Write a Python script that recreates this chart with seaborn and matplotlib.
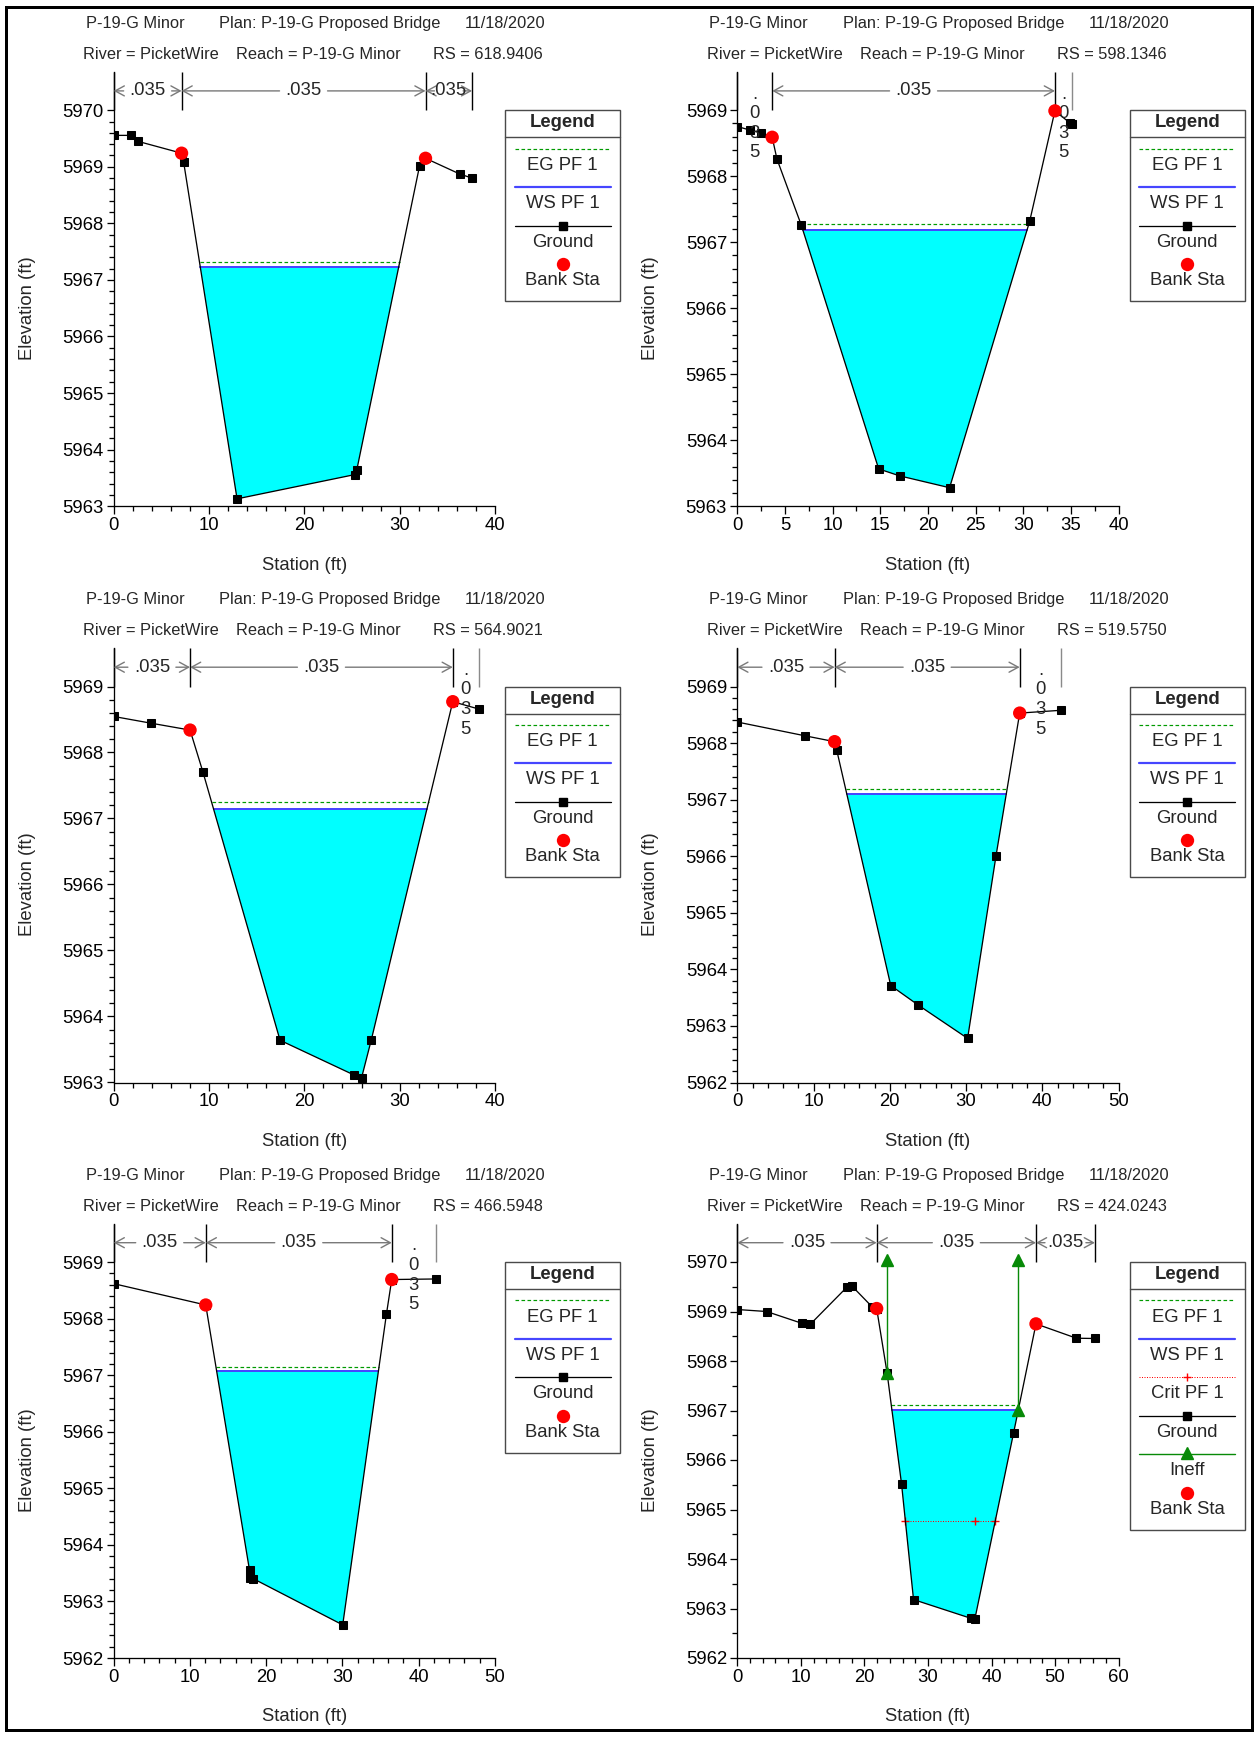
import numpy as np
import matplotlib
matplotlib.use("Agg")
import matplotlib.pyplot as plt
import seaborn as sns
from matplotlib.ticker import MultipleLocator
from matplotlib.patches import Rectangle

# ---------------------------------------------------------------- data
river = "PicketWire"
reach = "P-19-G Minor"
plan = "P-19-G Proposed Bridge"
run_date = "11/18/2020"

# RS 618.9406
sta_618 = [0, 1.85, 2.53, 7.12, 7.33, 12.94, 25.33, 25.5, 32.08, 32.71, 36.33, 37.6]
elev_618 = [5969.555, 5969.555, 5969.45, 5969.24, 5969.09, 5963.13, 5963.56, 5963.64,
            5969.01, 5969.15, 5968.87, 5968.80]
bank_sta_618 = [7.12, 32.71]
bank_elev_618 = [5969.24, 5969.15]
ws_618, eg_618 = 5967.23, 5967.31
n_618 = [".035", ".035", ".035"]

# RS 598.1346
sta_598 = [0, 1.30, 2.52, 3.66, 4.16, 6.72, 14.83, 17.02, 22.27, 30.67, 33.32, 34.95, 35.15]
elev_598 = [5968.753, 5968.70, 5968.66, 5968.59, 5968.26, 5967.256, 5963.565, 5963.46,
            5963.28, 5967.317, 5968.99, 5968.80, 5968.79]
bank_sta_598 = [3.66, 33.32]
bank_elev_598 = [5968.59, 5968.99]
ws_598, eg_598 = 5967.19, 5967.28
n_598 = [".035", ".035", ".035"]

# RS 564.9021
sta_564 = [0, 3.88, 8.01, 9.36, 17.45, 25.16, 26.0, 27.02, 35.57, 38.27]
elev_564 = [5968.546, 5968.445, 5968.34, 5967.705, 5963.64, 5963.117, 5963.07, 5963.644,
            5968.77, 5968.66]
bank_sta_564 = [8.01, 35.57]
bank_elev_564 = [5968.34, 5968.77]
ws_564, eg_564 = 5967.14, 5967.25
n_564 = [".035", ".035", ".035"]

# RS 519.5750
sta_519 = [0, 8.82, 12.76, 13.03, 20.12, 23.74, 30.2, 33.93, 37.03, 42.49]
elev_519 = [5968.372, 5968.13, 5968.025, 5967.88, 5963.714, 5963.367, 5962.78, 5966.01,
            5968.53, 5968.58]
bank_sta_519 = [12.76, 37.03]
bank_elev_519 = [5968.025, 5968.53]
ws_519, eg_519 = 5967.10, 5967.19
n_519 = [".035", ".035", ".035"]

# RS 466.5948
sta_466 = [0, 12.07, 17.81, 17.9, 18.33, 30.03, 35.77, 36.46, 42.25]
elev_466 = [5968.617, 5968.24, 5963.55, 5963.41, 5963.40, 5962.585, 5968.084, 5968.69, 5968.70]
bank_sta_466 = [12.07, 36.46]
bank_elev_466 = [5968.24, 5968.69]
ws_466, eg_466 = 5967.07, 5967.15
n_466 = [".035", ".035", ".035"]

# RS 424.0243
sta_424 = [0, 4.6, 10.2, 11.47, 17.27, 18.02, 21.17, 21.93, 23.57, 25.84, 27.73, 36.8, 37.37,
           43.48, 47.0, 53.37, 56.27]
elev_424 = [5969.04, 5969.0, 5968.76, 5968.74, 5969.495, 5969.517, 5969.10, 5969.06, 5967.76,
            5965.52, 5963.18, 5962.80, 5962.78, 5966.55, 5968.75, 5968.46, 5968.455]
bank_sta_424 = [21.93, 47.0]
bank_elev_424 = [5969.06, 5968.75]
ws_424, eg_424 = 5967.01, 5967.12
crit_424 = 5964.76
ineff_sta_424 = [23.57, 44.23]
ineff_elev_424 = [5970.05, 5970.05]
n_424 = [".035", ".035", ".035"]

sections = [
    dict(rs="618.9406", sta=sta_618, elev=elev_618, bsta=bank_sta_618, belev=bank_elev_618,
         ws=ws_618, eg=eg_618, n=n_618),
    dict(rs="598.1346", sta=sta_598, elev=elev_598, bsta=bank_sta_598, belev=bank_elev_598,
         ws=ws_598, eg=eg_598, n=n_598),
    dict(rs="564.9021", sta=sta_564, elev=elev_564, bsta=bank_sta_564, belev=bank_elev_564,
         ws=ws_564, eg=eg_564, n=n_564),
    dict(rs="519.5750", sta=sta_519, elev=elev_519, bsta=bank_sta_519, belev=bank_elev_519,
         ws=ws_519, eg=eg_519, n=n_519),
    dict(rs="466.5948", sta=sta_466, elev=elev_466, bsta=bank_sta_466, belev=bank_elev_466,
         ws=ws_466, eg=eg_466, n=n_466),
    dict(rs="424.0243", sta=sta_424, elev=elev_424, bsta=bank_sta_424, belev=bank_elev_424,
         ws=ws_424, eg=eg_424, n=n_424, crit=crit_424,
         ineff_sta=ineff_sta_424, ineff_elev=ineff_elev_424),
]

# ---------------------------------------------------------------- layout / style
layout = [
    dict(col=0, row=0, xmax=40, xmaj=10, xmin=2, ylo=5963, yhi=5970, ymin=0.2, stack=(0, 0, 0)),
    dict(col=1, row=0, xmax=40, xmaj=5, xmin=2.5, ylo=5963, yhi=5969, ymin=0.2, stack=(1, 0, 1)),
    dict(col=0, row=1, xmax=40, xmaj=10, xmin=2, ylo=5963, yhi=5969, ymin=0.2, stack=(0, 0, 1)),
    dict(col=1, row=1, xmax=50, xmaj=10, xmin=2, ylo=5962, yhi=5969, ymin=0.2, stack=(0, 0, 1)),
    dict(col=0, row=2, xmax=50, xmaj=10, xmin=2, ylo=5962, yhi=5969, ymin=0.2, stack=(0, 0, 1)),
    dict(col=1, row=2, xmax=60, xmaj=10, xmin=2, ylo=5962, yhi=5970, ymin=0.5, stack=(0, 0, 0)),
]

W, H = 1259, 1737
PT = 0.72                      # points per pixel at 100 dpi
COL_X = [113.7, 737.3]
COL_W = 381.3
ROW_TICK_TOP = [110.2, 686.5, 1262.0]
TICK_SPAN = 396.0
HEADROOM = 38.4
LEG_X = [505.0, 1129.8]
LEG_W = 115.0

FS = 13.3
FS_TITLE = 11.8
EG_C = "#009a00"
WS_C = "#4646ff"
WATER_C = "#00ffff"
INEFF_C = "#078a07"
ARROW_C = "#7a7a7a"
SQ = 5.6                       # ground marker size (pt)
DOT = 9.6                      # bank station marker size (pt)

sns.set_theme(style="white")
plt.rcParams["font.family"] = ["Liberation Sans", "DejaVu Sans"]
plt.rcParams["axes.linewidth"] = 1.3 * PT
plt.rcParams["axes.edgecolor"] = "black"

fig = plt.figure(figsize=(W / 100, H / 100), dpi=100)
fig.patch.set_facecolor("white")


def px_axes(x0, y_top, x1, y_bot):
    return fig.add_axes([x0 / W, 1 - y_bot / H, (x1 - x0) / W, (y_bot - y_top) / H])


def fig_text(x, y, s, **kw):
    fig.text(x / W, 1 - y / H, s, **kw)


def wet_extent(sta, elev, level):
    sta = np.asarray(sta, float)
    elev = np.asarray(elev, float)
    i0 = int(np.argmin(elev))
    i = i0
    while i > 0 and elev[i - 1] < level:
        i -= 1
    j = i0
    while j < len(sta) - 1 and elev[j + 1] < level:
        j += 1
    xl = np.interp(level, [elev[i], elev[i - 1]], [sta[i], sta[i - 1]])
    xr = np.interp(level, [elev[j], elev[j + 1]], [sta[j], sta[j + 1]])
    px = np.concatenate([[xl], sta[i:j + 1], [xr]])
    py = np.concatenate([[level], elev[i:j + 1], [level]])
    return xl, xr, px, py


def draw_nvalues(ax, bounds, labels, stack, y_tick_top, y_ax_top, y_arrow, ppx):
    for k, b in enumerate(bounds):
        col = "black"
        if k == len(bounds) - 1 and stack[-1]:
            col = "#8a8a8a"
        ax.plot([b, b], [y_tick_top, y_ax_top], color=col, lw=1.4 * PT,
                clip_on=False, zorder=4, solid_capstyle="butt")
    for i, lab in enumerate(labels):
        xl, xr = bounds[i], bounds[i + 1]
        xc = 0.5 * (xl + xr)
        if stack[i]:
            for k, ch in enumerate(lab):
                ax.annotate(ch, (xc, y_arrow), xytext=(0, -(7.6 + 19.6 * k) * PT),
                            textcoords="offset points", ha="center", va="baseline",
                            fontsize=FS, annotation_clip=False, zorder=5)
            continue
        ax.text(xc, y_arrow, lab, ha="center", va="center", fontsize=FS,
                clip_on=False, zorder=5)
        gap = 24.0 / ppx
        head = 9.0 / ppx
        inner_l = max(xc - gap, xl + head)
        inner_r = min(xc + gap, xr - head)
        arrow = dict(arrowstyle="->,head_length=0.55,head_width=0.3", color=ARROW_C,
                     lw=1.4 * PT, shrinkA=0, shrinkB=0)
        ax.annotate("", xy=(xl, y_arrow), xytext=(inner_l, y_arrow), arrowprops=arrow,
                    annotation_clip=False, zorder=4)
        ax.annotate("", xy=(xr, y_arrow), xytext=(inner_r, y_arrow), arrowprops=arrow,
                    annotation_clip=False, zorder=4)


def draw_legend(x0, y0, entries):
    h = 54.3 + 38.45 * (len(entries) - 1) + 21.3
    lax = px_axes(x0, y0, x0 + LEG_W, y0 + h)
    lax.set_xlim(0, LEG_W)
    lax.set_ylim(h, 0)
    lax.axis("off")
    lax.add_patch(Rectangle((0, 0), LEG_W, h, fill=False, lw=1.4 * PT,
                            edgecolor="#4a4a4a", clip_on=False))
    lax.plot([0, LEG_W], [27.3, 27.3], color="#4a4a4a", lw=1.4 * PT, clip_on=False)
    lax.text(LEG_W / 2, 12.8, "Legend", ha="center", va="center", fontsize=FS,
             fontweight="bold")
    xs = [9.5, LEG_W - 9.5]
    mid = LEG_W / 2
    for k, (kind, label) in enumerate(entries):
        yl = 38.4 + 38.45 * k
        yt = 55.0 + 38.45 * k
        if kind == "eg":
            lax.plot(xs, [yl, yl], color=EG_C, lw=1.2 * PT, ls=(0, (3.0, 2.0)))
        elif kind == "ws":
            lax.plot(xs, [yl, yl], color=WS_C, lw=2.2 * PT)
        elif kind == "crit":
            lax.plot(xs, [yl, yl], color="red", lw=1.0 * PT, ls=(0, (1, 1.5)))
            lax.plot([mid], [yl], marker="+", color="red", ms=6, mew=1.0)
        elif kind == "ground":
            lax.plot(xs, [yl, yl], color="black", lw=1.3 * PT)
            lax.plot([mid], [yl], marker="s", color="black", ms=SQ)
        elif kind == "ineff":
            lax.plot(xs, [yl, yl], color=INEFF_C, lw=1.4 * PT)
            lax.plot([mid], [yl - 1.5], marker="^", color=INEFF_C, ms=9)
        elif kind == "bank":
            lax.plot([mid], [yl], marker="o", color="red", ms=DOT, mec="none")
        lax.text(mid, yt, label, ha="center", va="center", fontsize=FS)


for sec, lay in zip(sections, layout):
    x0 = COL_X[lay["col"]]
    tick_top = ROW_TICK_TOP[lay["row"]]
    y_bot = tick_top + TICK_SPAN
    ax_top = tick_top - HEADROOM
    ax = px_axes(x0, ax_top, x0 + COL_W, y_bot)
    ax.set_facecolor("none")

    ylo, yhi, xmax = lay["ylo"], lay["yhi"], lay["xmax"]
    ppy = TICK_SPAN / (yhi - ylo)
    ppx = COL_W / xmax
    y_ax_top = yhi + HEADROOM / ppy
    y_arrow = yhi + 19.3 / ppy
    ax.set_xlim(0, xmax)
    ax.set_ylim(ylo, y_ax_top)

    sta = np.asarray(sec["sta"], float)
    elev = np.asarray(sec["elev"], float)

    # water surface area
    xl, xr, px, py = wet_extent(sta, elev, sec["ws"])
    ax.fill(px, py, color=WATER_C, lw=0, zorder=1)
    ax.plot([xl, xr], [sec["ws"], sec["ws"]], color=WS_C, lw=2.0 * PT, zorder=3)
    exl, exr, _, _ = wet_extent(sta, elev, sec["eg"])
    ax.plot([exl, exr], [sec["eg"], sec["eg"]], color=EG_C, lw=1.2 * PT,
            ls=(0, (3.0, 2.0)), zorder=3)

    entries = [("eg", "EG PF 1"), ("ws", "WS PF 1")]
    if "crit" in sec:
        cxl, cxr, _, _ = wet_extent(sta, elev, sec["crit"])
        cx = [cxl, sta[int(np.argmin(elev))], cxr]
        ax.plot([cxl, cxr], [sec["crit"]] * 2, color="red", lw=1.0 * PT,
                ls=(0, (1, 1.5)), zorder=3)
        ax.plot(cx, [sec["crit"]] * 3, ls="none", marker="+", color="red", ms=6,
                mew=1.0, zorder=3)
        entries.append(("crit", "Crit PF 1"))
    entries.append(("ground", "Ground"))

    # ground profile
    sns.lineplot(x=sta, y=elev, ax=ax, color="black", lw=1.3 * PT, marker="s",
                 markersize=SQ, markeredgecolor="black", sort=False, estimator=None,
                 zorder=5, legend=False)

    if "ineff_sta" in sec:
        for s, e in zip(sec["ineff_sta"], sec["ineff_elev"]):
            g = np.interp(s, sta, elev)
            ax.plot([s, s], [g, e], color=INEFF_C, lw=1.4 * PT, marker="^", ms=8,
                    zorder=6, clip_on=False)
        entries.append(("ineff", "Ineff"))
    entries.append(("bank", "Bank Sta"))

    # bank stations
    sns.scatterplot(x=sec["bsta"], y=sec["belev"], ax=ax, color="red", s=DOT ** 2,
                    edgecolor="none", zorder=7, legend=False)

    # Manning's n regions
    bounds = [sta[0], sec["bsta"][0], sec["bsta"][1], sta[-1]]
    draw_nvalues(ax, bounds, sec["n"], lay["stack"], yhi, y_ax_top, y_arrow, ppx)

    # axes styling
    for side in ("top", "right"):
        ax.spines[side].set_visible(False)
    ax.set_xticks(np.arange(0, xmax + 0.01, lay["xmaj"]))
    ax.set_yticks(np.arange(ylo, yhi + 0.01, 1))
    ax.xaxis.set_minor_locator(MultipleLocator(lay["xmin"]))
    ax.set_xticklabels([f"{v:g}" for v in ax.get_xticks()])
    ax.set_yticklabels([f"{v:.0f}" for v in ax.get_yticks()])
    # minor ticks only within the labelled range
    ax.set_yticks([v for v in np.arange(ylo, yhi + 1e-6, lay["ymin"])], minor=True)
    ax.tick_params(axis="both", which="both", direction="out", colors="black",
                   width=1.3 * PT, labelsize=FS)
    ax.tick_params(axis="both", which="major", length=7.5 * PT)
    ax.tick_params(axis="both", which="minor", length=4.8 * PT)
    ax.tick_params(axis="y", which="both", left=True, pad=2.0)
    ax.tick_params(axis="x", which="both", bottom=True, pad=2.5)
    ax.set_xlabel("")
    ax.set_ylabel("")
    ax.grid(False)

    fig_text(x0 + COL_W / 2, y_bot + 58.8, "Station (ft)", ha="center", va="center",
             fontsize=FS)
    fig_text(x0 - 86.4, tick_top + TICK_SPAN / 2, "Elevation (ft)", ha="center",
             va="center", rotation=90, fontsize=FS)

    # heading lines
    y1 = tick_top - 86.9
    y2 = tick_top - 55.8
    fig_text(x0 - 28.1, y1, reach, ha="left", va="center", fontsize=FS_TITLE)
    fig_text(x0 + 105.3, y1, f"Plan: {plan}", ha="left", va="center", fontsize=FS_TITLE)
    fig_text(x0 + 351.3, y1, run_date, ha="left", va="center", fontsize=FS_TITLE)
    fig_text(x0 - 30.7, y2, f"River = {river}", ha="left", va="center", fontsize=FS_TITLE)
    fig_text(x0 + 122.3, y2, f"Reach = {reach}", ha="left", va="center", fontsize=FS_TITLE)
    fig_text(x0 + 319.3, y2, f"RS = {sec['rs']}", ha="left", va="center", fontsize=FS_TITLE)

    draw_legend(LEG_X[lay["col"]], tick_top, entries)

# outer frame
frame = fig.add_axes([0, 0, 1, 1], zorder=-1)
frame.set_xlim(0, W)
frame.set_ylim(H, 0)
frame.axis("off")
frame.add_patch(Rectangle((6.5, 6.5), W - 13.5, H - 14.0, fill=False, lw=3.0 * PT,
                          edgecolor="black"))

fig.savefig("out.png", dpi=100, facecolor="white")
